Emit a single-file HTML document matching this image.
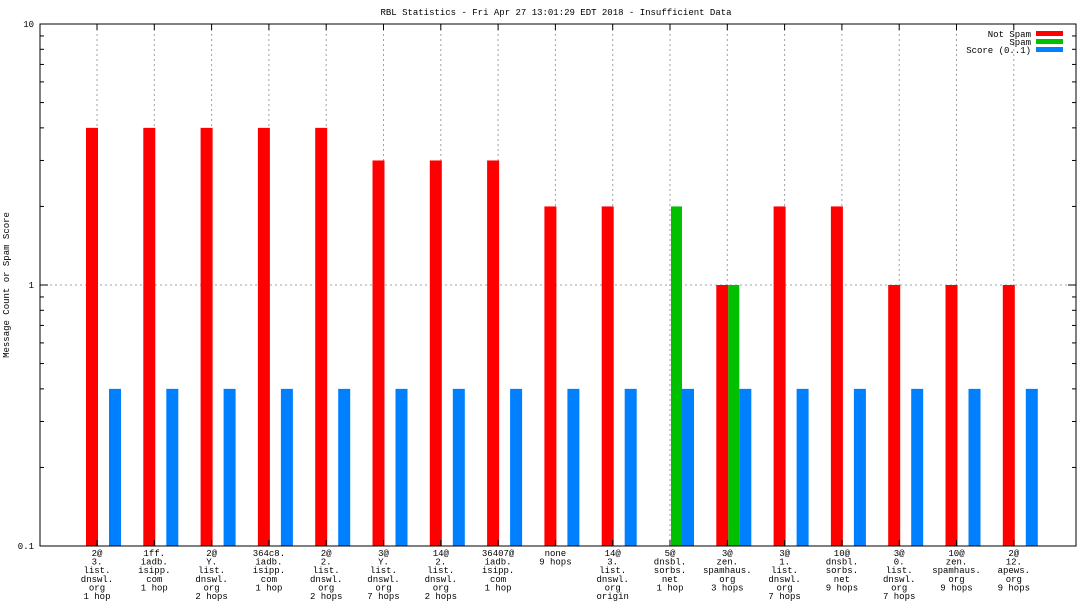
<!DOCTYPE html>
<html><head><meta charset="utf-8"><style>
html,body{margin:0;padding:0;background:#fff}
svg{display:block}
text{font-family:"Liberation Mono",monospace;font-size:9px;fill:#000}
</style></head><body>
<svg id="chart" width="1088" height="612" xmlns="http://www.w3.org/2000/svg">
<text x="556" y="15" text-anchor="middle">RBL Statistics - Fri Apr 27 13:01:29 EDT 2018 - Insufficient Data</text>
<text transform="translate(9,285) rotate(-90)" text-anchor="middle">Message Count or Spam Score</text>
<g id="grid"></g><g id="bars"></g><g id="axes"></g><g id="labels"></g>
<g>
<text x="1031" y="37" text-anchor="end">Not Spam</text>
<rect x="1036" y="31" width="27" height="5" fill="#ff0000"/>
<text x="1031" y="45" text-anchor="end">Spam</text>
<rect x="1036" y="39" width="27" height="5" fill="#00c000"/>
<text x="1031" y="53" text-anchor="end">Score (0..1)</text>
<rect x="1036" y="47" width="27" height="5" fill="#0080ff"/>
</g>
</svg>
<script>
const categories = [
 ["2@","3.","list.","dnswl.","org","1 hop"],
 ["1ff.","iadb.","isipp.","com","1 hop"],
 ["2@","Y.","list.","dnswl.","org","2 hops"],
 ["364c8.","iadb.","isipp.","com","1 hop"],
 ["2@","2.","list.","dnswl.","org","2 hops"],
 ["3@","Y.","list.","dnswl.","org","7 hops"],
 ["14@","2.","list.","dnswl.","org","2 hops"],
 ["36407@","iadb.","isipp.","com","1 hop"],
 ["none","9 hops"],
 ["14@","3.","list.","dnswl.","org","origin"],
 ["5@","dnsbl.","sorbs.","net","1 hop"],
 ["3@","zen.","spamhaus.","org","3 hops"],
 ["3@","1.","list.","dnswl.","org","7 hops"],
 ["10@","dnsbl.","sorbs.","net","9 hops"],
 ["3@","0.","list.","dnswl.","org","7 hops"],
 ["10@","zen.","spamhaus.","org","9 hops"],
 ["2@","12.","apews.","org","9 hops"]
];
const notSpam = [4,4,4,4,4,3,3,3,2,2,0,1,2,2,1,1,1];
const spam =    [0,0,0,0,0,0,0,0,0,0,2,1,0,0,0,0,0];
const score =   [0.4,0.4,0.4,0.4,0.4,0.4,0.4,0.4,0.4,0.4,0.4,0.4,0.4,0.4,0.4,0.4,0.4];
const yTicks = [0.1,1,10];
const yTickLabels = ["0.1","1","10"];

const L=40,R=1076,T=24,B=546;
const NS="http://www.w3.org/2000/svg";
function y(v){return B-(Math.log10(v)+1)/2*(B-T);}
function xc(i){return 97+i*57.3;}
function mk(tag,attrs,parent){const e=document.createElementNS(NS,tag);for(const k in attrs)e.setAttribute(k,attrs[k]);parent.appendChild(e);return e;}
const grid=document.getElementById('grid'),bars=document.getElementById('bars'),axes=document.getElementById('axes'),labels=document.getElementById('labels');
categories.forEach((c,i)=>{const l=mk('line',{x1:xc(i),x2:xc(i),y1:T,y2:B,stroke:'#a0a0a0','stroke-dasharray':'2,3'},grid);

});
yTicks.forEach(v=>{if(v>0.1&&v<10){const l=mk('line',{x1:L,x2:R,y1:y(v),y2:y(v),stroke:'#a0a0a0','stroke-dasharray':'2,3'},grid);

}});
categories.forEach((c,i)=>{
 const cx=xc(i);
 if(notSpam[i]>0){const r=mk('rect',{x:cx-11,y:y(notSpam[i]),width:12,height:B-y(notSpam[i]),fill:'#ff0000'},bars);
 
 }
 if(spam[i]>0){const r=mk('rect',{x:cx+1,y:y(spam[i]),width:11,height:B-y(spam[i]),fill:'#00c000'},bars);
 
 }
 if(score[i]>0){const r=mk('rect',{x:cx+12,y:y(score[i]),width:12,height:B-y(score[i]),fill:'#0080ff'},bars);
 
 }
 const t=mk('text',{x:cx,y:556,'text-anchor':'middle'},labels);
 
 
 c.forEach((s,k)=>{const ts=mk('tspan',{x:cx,dy:k?8.6:0},t);ts.textContent=s;});
 mk('line',{x1:cx,x2:cx,y1:T,y2:T+6,stroke:'#000'},axes);
 mk('line',{x1:cx,x2:cx,y1:B,y2:B-6,stroke:'#000'},axes);
});
const fr=mk('rect',{x:L,y:T,width:R-L,height:B-T,fill:'none',stroke:'#000'},axes);


yTicks.forEach((v,i)=>{const t=mk('text',{x:L-6,y:y(v)+3,'text-anchor':'end'},labels);t.textContent=yTickLabels[i];
 
 
 mk('line',{x1:L,x2:L+8,y1:y(v),y2:y(v),stroke:'#000'},axes);
 mk('line',{x1:R,x2:R-8,y1:y(v),y2:y(v),stroke:'#000'},axes);
 if(v<10){for(let m=2;m<10;m++){const yy=y(v*m);mk('line',{x1:L,x2:L+4,y1:yy,y2:yy,stroke:'#000'},axes);mk('line',{x1:R,x2:R-4,y1:yy,y2:yy,stroke:'#000'},axes);}}
});
</script>
</body></html>
